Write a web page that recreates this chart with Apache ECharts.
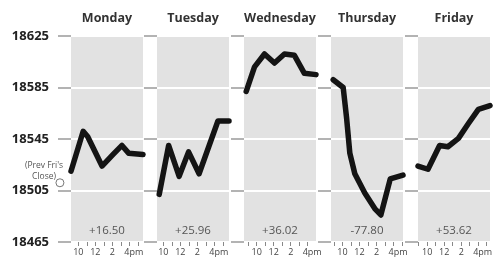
<!DOCTYPE html>
<html>
<head>
<meta charset="utf-8">
<script src="https://cdn.jsdelivr.net/npm/echarts@6/dist/echarts.min.js"></script>
<style>html,body{margin:0;padding:0;background:#fff;}#c{width:500px;height:264px;}</style>
</head>
<body>
<div id="c"></div>
<script>
// ---- data ----
const days = ['Monday', 'Tuesday', 'Wednesday', 'Thursday', 'Friday'];
const changes = ['+16.50', '+25.96', '+36.02', '-77.80', '+53.62'];
const yTicks = [18465, 18505, 18545, 18585, 18625];
const hourTicks = [9, 10, 11, 12, 13, 14, 15, 16, 17];
const hourLabelValues = [10, 12, 14, 16];
const hourLabelText = ['10', '12', '2', '4pm'];
const prevFriClose = 18511;
const prevLabel = "(Prev Fri's\nClose)";

const monT = [9.5, 10.6, 11.0, 12.3, 13.3, 14.1, 14.7, 16.0];
const monV = [18520, 18551, 18547, 18524, 18533, 18540, 18534, 18533];
const tueT = [9.7, 10.55, 11.5, 12.35, 13.3, 15.0, 16.0];
const tueV = [18502, 18540, 18516, 18535, 18518, 18559, 18559];
const wedT = [9.7, 10.45, 11.35, 12.25, 13.15, 14.05, 14.95, 16.0];
const wedV = [18582, 18601, 18611, 18604, 18611, 18610, 18596, 18595];
const thuT = [9.7, 10.6, 10.9, 11.2, 11.65, 12.55, 13.45, 14.0, 14.85, 16.0];
const thuV = [18591, 18585, 18562, 18534, 18518, 18503, 18491, 18486, 18514, 18517];
const friT = [9.5, 10.4, 11.45, 12.2, 13.15, 14.05, 14.95, 16.0];
const friV = [18524, 18521.5, 18540, 18539, 18545.5, 18557, 18568, 18571];

const seriesT = [monT, tueT, wedT, thuT, friT];
const seriesV = [monV, tueV, wedV, thuV, friV];

// ---- layout ----
const panelLeft = [71, 157, 244, 331, 418];
const panelW = 72, panelTop = 36, panelH = 206;
const labelOffset = [7.3, 6.3, 12.7, 11.5, 9.2]; // px from panel left to the "10" tick
const pxPerHour = 8.5;

const grids = [], xAxes = [], yAxes = [], series = [], graphics = [];
panelLeft.forEach((L, i) => {
  grids.push({left: L, top: panelTop, width: panelW, height: panelH, show: true,
    backgroundColor: '#e2e2e2', borderWidth: 0, containLabel: false});
  // data axis (hidden)
  xAxes.push({type: 'value', gridIndex: i, min: 9.5, max: 16, show: false});
  // label axis
  const mn = 10 - labelOffset[i] / pxPerHour;
  xAxes.push({type: 'value', gridIndex: i, min: mn, max: mn + panelW / pxPerHour, position: 'bottom',
    axisLine: {show: false}, splitLine: {show: false},
    axisTick: {show: true, customValues: hourTicks, length: 4, lineStyle: {color: '#888', width: 1}},
    axisLabel: {show: true, customValues: hourLabelValues, margin: 6, color: '#444', fontSize: 9,
      fontFamily: 'Open Sans',
      formatter: v => {
        const k = hourLabelValues.indexOf(Math.round(v));
        if (k < 0) return '';
        return k === 3 ? '{p|' + hourLabelText[k] + '}' : hourLabelText[k];
      },
      rich: {p: {fontSize: 9, color: '#444', fontFamily: 'Open Sans', padding: [0, 0, 0, 9]}}}
  });
  yAxes.push({type: 'value', gridIndex: i, min: yTicks[0], max: yTicks[yTicks.length - 1], interval: 40,
    axisLine: {show: false},
    axisTick: {show: true, length: 13, lineStyle: {color: '#9a9a9a', width: 1.5}},
    splitLine: {show: true, lineStyle: {color: '#ffffff', width: 2}},
    axisLabel: {show: i === 0, margin: 22, color: '#222', fontSize: 13, fontWeight: 'bold',
      fontFamily: 'Open Sans', formatter: v => String(v)}
  });
  series.push({type: 'line', xAxisIndex: i * 2, yAxisIndex: i, symbol: 'none',
    data: seriesT[i].map((t, k) => [t, seriesV[i][k]]),
    lineStyle: {color: '#141414', width: 5.5, cap: 'round', join: 'round'}, z: 5});
  const cx = L + panelW / 2;
  graphics.push({type: 'text', x: cx, y: 18, style: {text: days[i], align: 'center', verticalAlign: 'middle',
    textAlign: 'center', textVerticalAlign: 'middle',
    font: 'bold 12.5px "Open Sans"', fill: '#333'}});
  graphics.push({type: 'text', x: cx, y: 231, style: {text: changes[i], align: 'center', verticalAlign: 'middle',
    textAlign: 'center', textVerticalAlign: 'middle',
    font: '11.5px "Open Sans"', fill: '#555'}});
});

// previous Friday close marker on Monday panel (drawn just left of the panel)
series.push({type: 'scatter', xAxisIndex: 0, yAxisIndex: 0, clip: false,
  data: [[8.5, prevFriClose]], symbol: 'circle', symbolSize: 8,
  itemStyle: {color: '#fff', borderColor: '#555', borderWidth: 1}, z: 6});
graphics.push({type: 'text', x: 44, y: 171, style: {text: prevLabel, align: 'center', verticalAlign: 'middle',
  textAlign: 'center', textVerticalAlign: 'middle', lineHeight: 11,
  font: '8.5px "Open Sans"', fill: '#555'}});

const chart = echarts.init(document.getElementById('c'), null, {renderer: 'canvas'});
chart.setOption({
  animation: false,
  backgroundColor: '#fff',
  grid: grids, xAxis: xAxes, yAxis: yAxes, series: series, graphic: graphics
});
</script>
</body>
</html>
